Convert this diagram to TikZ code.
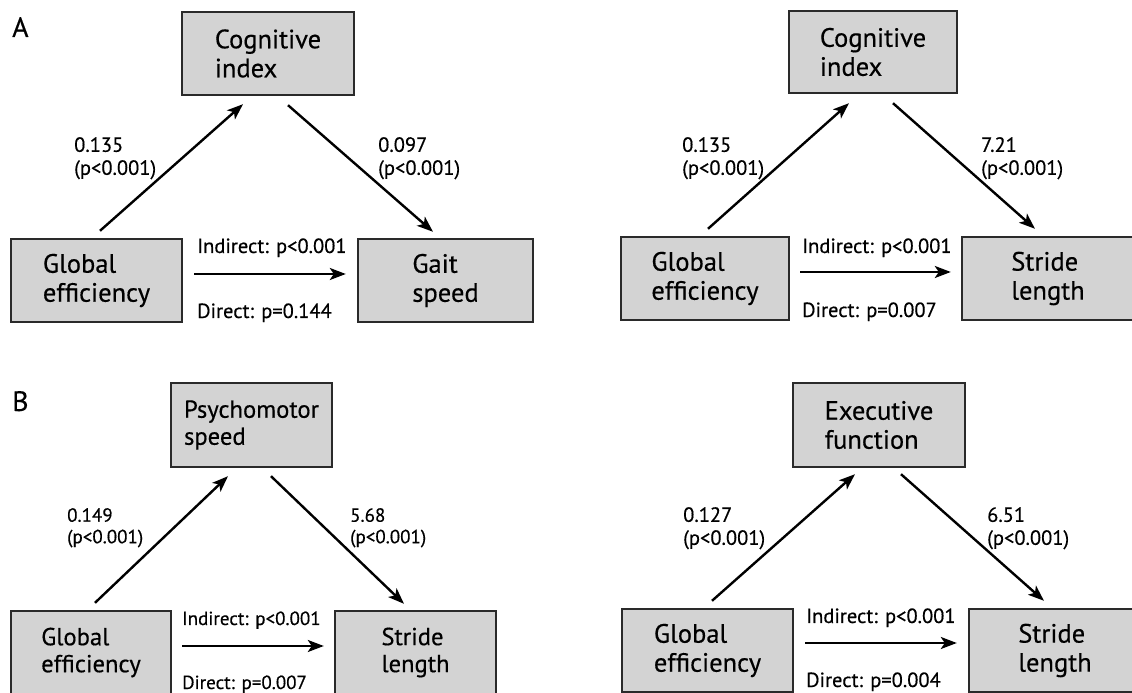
\documentclass[tikz,border=0pt]{standalone}
\usepackage{fontspec}
\setmainfont{PT Sans}[FakeBold=0.4]
\usetikzlibrary{arrows.meta}

\definecolor{boxfill}{HTML}{D3D3D3}
\definecolor{boxline}{HTML}{2A2A2A}

\tikzset{
    box/.style={draw=boxline, fill=boxfill, line width=2.4pt, inner sep=0pt,
        minimum height=83pt, align=left, font=\fontsize{26.5}{29}\selectfont},
    link/.style={line width=2.4pt, -{Stealth[length=16pt, width=12pt, inset=4pt]}},
    coef/.style={anchor=north west, inner sep=0pt, align=left,
        font=\fontsize{20.5}{23}\selectfont},
    pval/.style={anchor=base west, inner sep=0pt, font=\fontsize{20.5}{23}\selectfont},
    panel/.style={anchor=base west, inner sep=0pt, font=\fontsize{28}{30}\selectfont},
    % panel B, left is drawn a little smaller
    smallbox/.style={font=\fontsize{24.6}{27}\selectfont},
    smalltext/.style={font=\fontsize{19}{21.5}\selectfont}
}

\begin{document}
\begin{tikzpicture}[x=1pt, y=1pt]
    \useasboundingbox (0, 0) rectangle (1132, 693);

    \node[panel] (labA) at (12, 656) {A};
    \node[panel] (labB) at (12, 282) {B};

    % A, left
    \node[box, minimum width=171pt] (ge1) at (96.5, 412.5) {Global\\efficiency};
    \node[box, minimum width=172pt] (ci1) at (268, 639.5) {Cognitive\\index};
    \node[box, minimum width=175pt] (gs1) at (445.5, 412.5) {Gait\\speed};

    \draw[link] ([shift={(3.5, 7)}]ge1.north) -- ([shift={(-25, -8)}]ci1.south);
    \draw[link] ([shift={(20, -9)}]ci1.south) -- ([shift={(-12.5, 6)}]gs1.north);
    \draw[link] ([shift={(11, 6.5)}]ge1.east) -- ([shift={(-11, 6.5)}]gs1.west);

    \node[coef] (a1) at (74, 556) {0.135\\(p<0.001)};
    \node[coef] (b1) at (378, 556) {0.097\\(p<0.001)};
    \node[pval] (ind1) at (197, 440) {Indirect: p<0.001};
    \node[pval] (dir1) at (197, 375) {Direct: p=0.144};

    % A, right
    \node[box, minimum width=168pt] (ge2) at (705, 414.5) {Global\\efficiency};
    \node[box, minimum width=168pt, minimum height=82pt] (ci2) at (873, 641) {Cognitive\\index};
    \node[box, minimum width=172pt] (sl2) at (1048, 414.5) {Stride\\length};

    \draw[link] ([shift={(3, 7)}]ge2.north) -- ([shift={(-24, -9)}]ci2.south);
    \draw[link] ([shift={(20, -9)}]ci2.south) -- ([shift={(-13, 7)}]sl2.north);
    \draw[link] ([shift={(10, 6.5)}]ge2.east) -- ([shift={(-10, 6.5)}]sl2.west);

    \node[coef] (a2) at (682, 556) {0.135\\(p<0.001)};
    \node[coef] (b2) at (981, 556) {7.21\\(p<0.001)};
    \node[pval] (ind2) at (802, 440) {Indirect: p<0.001};
    \node[pval] (dir2) at (802, 376) {Direct: p=0.007};

    % B, left
    \node[box, smallbox, minimum width=160pt] (ge3) at (91, 40.5) {Global\\efficiency};
    \node[box, smallbox, minimum width=161pt, minimum height=84pt] (ps3) at (251.5, 268) {Psychomotor\\speed};
    \node[box, smallbox, minimum width=161pt] (sl3) at (415.5, 40.5) {Stride\\length};

    \draw[link] ([shift={(4, 7)}]ge3.north) -- ([shift={(-23.5, -8)}]ps3.south);
    \draw[link] ([shift={(19.5, -8)}]ps3.south) -- ([shift={(-11.5, 6)}]sl3.north);
    \draw[link] ([shift={(10, 6.5)}]ge3.east) -- ([shift={(-10, 6.5)}]sl3.west);

    \node[coef, smalltext] (a3) at (67, 185) {0.149\\(p<0.001)};
    \node[coef, smalltext] (b3) at (350, 185) {5.68\\(p<0.001)};
    \node[pval, smalltext] (ind3) at (182, 68) {Indirect: p<0.001};
    \node[pval, smalltext] (dir3) at (182, 4) {Direct: p=0.007};

    % B, right
    \node[box, minimum width=171pt] (ge4) at (707.5, 42.5) {Global\\efficiency};
    \node[box, minimum width=172pt, minimum height=84pt] (ef4) at (879, 268) {Executive\\function};
    \node[box, minimum width=172pt] (sl4) at (1055, 42.5) {Stride\\length};

    \draw[link] ([shift={(4.5, 7)}]ge4.north) -- ([shift={(-24, -6)}]ef4.south);
    \draw[link] ([shift={(22, -6)}]ef4.south) -- ([shift={(-11, 7)}]sl4.north);
    \draw[link] ([shift={(11, 7.5)}]ge4.east) -- ([shift={(-11, 7.5)}]sl4.west);

    \node[coef] (a4) at (683, 186) {0.127\\(p<0.001)};
    \node[coef] (b4) at (987, 186) {6.51\\(p<0.001)};
    \node[pval] (ind4) at (806, 70) {Indirect: p<0.001};
    \node[pval] (dir4) at (806, 6) {Direct: p=0.004};
\end{tikzpicture}
\end{document}
